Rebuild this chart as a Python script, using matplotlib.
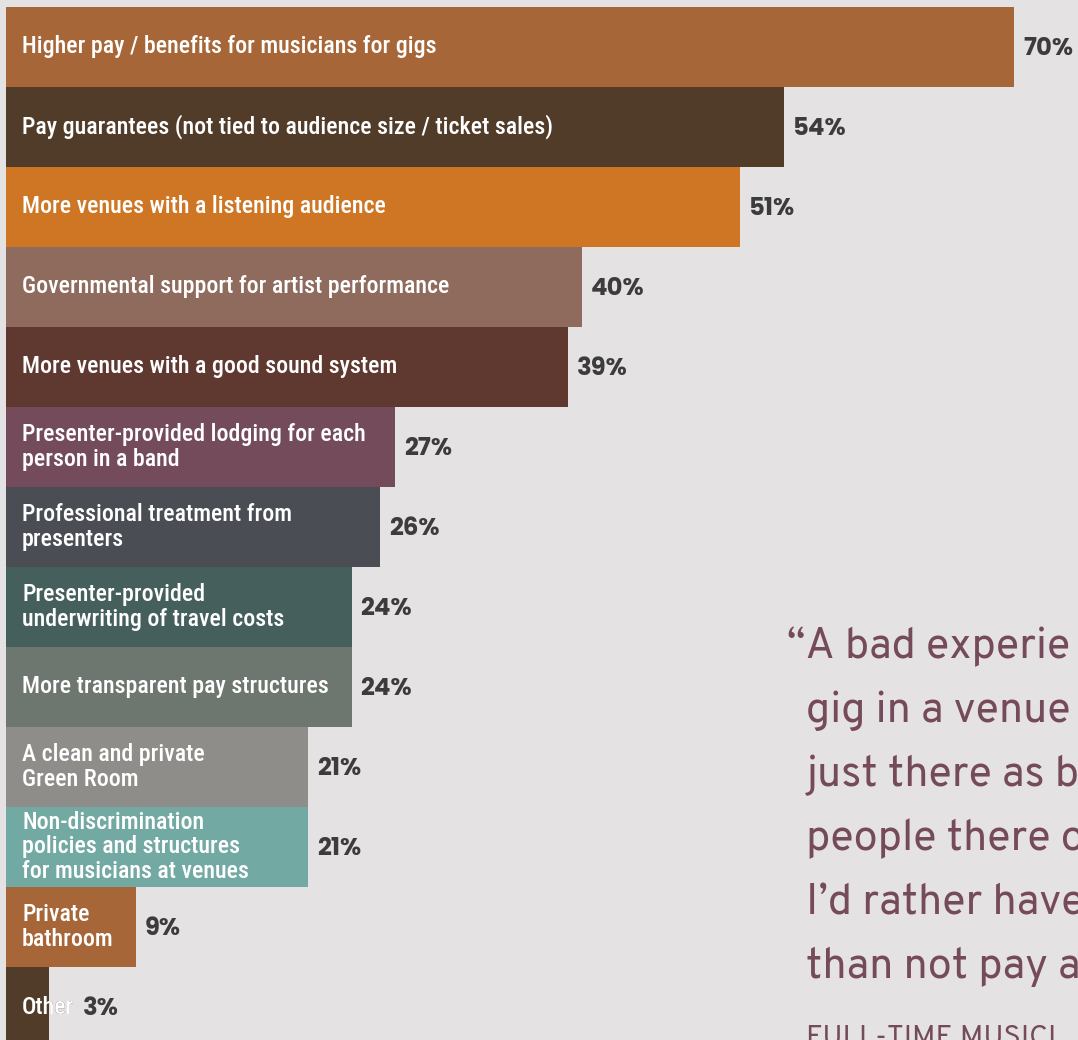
import matplotlib
matplotlib.use("Agg")
import matplotlib.pyplot as plt
import logging

logging.getLogger("matplotlib.font_manager").setLevel(logging.ERROR)

# Survey responses: what would improve touring / gigging conditions
labels = [
    "Higher pay / benefits for musicians for gigs",
    "Pay guarantees (not tied to audience size / ticket sales)",
    "More venues with a listening audience",
    "Governmental support for artist performance",
    "More venues with a good sound system",
    "Presenter-provided lodging for each\nperson in a band",
    "Professional treatment from\npresenters",
    "Presenter-provided\nunderwriting of travel costs",
    "More transparent pay structures",
    "A clean and private\nGreen Room",
    "Non-discrimination\npolicies and structures\nfor musicians at venues",
    "Private\nbathroom",
    "Other",
]
values = [70, 54, 51, 40, 39, 27, 26, 24, 24, 21, 21, 9, 3]
colors = [
    "#A66637", "#513C2A", "#CE7624", "#8E6B5D", "#5F3830", "#744B5B",
    "#4A4D54", "#455F5D", "#6E7670", "#8F8D8A", "#72A9A3", "#A66637", "#513C2A",
]

quote_lines = [
    "\u201cA bad experie",
    "gig in a venue",
    "just there as b",
    "people there o",
    "I\u2019d rather have",
    "than not pay a",
]
attribution = "FULL-TIME MUSICI"

BG = "#E4E2E2"
VALUE_COLOR = "#3C3C3C"
QUOTE_COLOR = "#754A5A"

LABEL_FAMILY = ["Roboto Condensed", "Barlow Semi Condensed", "DejaVu Sans"]
VALUE_FAMILY = ["Poppins", "DejaVu Sans"]
QUOTE_FAMILY = ["Overpass", "Open Sans", "DejaVu Sans"]

W, H = 1078, 1040
fig = plt.figure(figsize=(W / 100, H / 100), dpi=100, facecolor=BG)

# Axes spans 0..70 over 1008 px; 13 rows of 80 px starting 7 px from top
ax_left, ax_top = 6, 7
ax_w = 1008
ax_h = 80 * len(values)
ax = fig.add_axes([ax_left / W, (H - ax_top - ax_h) / H, ax_w / W, ax_h / H])
ax.set_facecolor("none")
ax.set_xlim(0, 70)
ax.set_ylim(len(values) - 0.5, -0.5)
ax.axis("off")

ypos = list(range(len(values)))
bars = ax.barh(ypos, values, height=1.0, color=colors, linewidth=0)

fig.canvas.draw()
renderer = fig.canvas.get_renderer()
px_per_unit = ax_w / 70.0
pad_in = 16 / px_per_unit   # label inset from bar start
gap = 9 / px_per_unit       # gap between bar end and value label

label_font = dict(family=LABEL_FAMILY, fontsize=17.2, fontweight="medium",
                  linespacing=1.08)

for y, lab, v, c, bar in zip(ypos, labels, values, colors, bars):
    # dark copy underneath so any overflow past the bar stays readable
    ax.text(pad_in, y, lab, color=c, va="center", ha="left", **label_font)
    t = ax.text(pad_in, y, lab, color="white", va="center", ha="left", **label_font)
    t.set_clip_path(bar)
    bb = t.get_window_extent(renderer)
    text_end = ax.transData.inverted().transform((bb.x1, 0))[0]
    x_val = max(v, text_end) + gap
    ax.text(x_val, y + 0.03, f"{v}%", color=VALUE_COLOR, va="center", ha="left",
            fontsize=17.5, fontweight="bold", family=VALUE_FAMILY)

# Pull quote on the right, running off the page edge
line_h = 64
y0 = 647
for i, line in enumerate(quote_lines):
    x = 787 if i == 0 else 806
    fig.text(x / W, 1 - (y0 + i * line_h) / H, line, color=QUOTE_COLOR,
             fontsize=31, family=QUOTE_FAMILY, va="center", ha="left")
fig.text(806 / W, 1 - 1037 / H, attribution, color=QUOTE_COLOR,
         fontsize=21, family=QUOTE_FAMILY, va="center", ha="left")

fig.savefig("out.png", dpi=100, facecolor=BG)
